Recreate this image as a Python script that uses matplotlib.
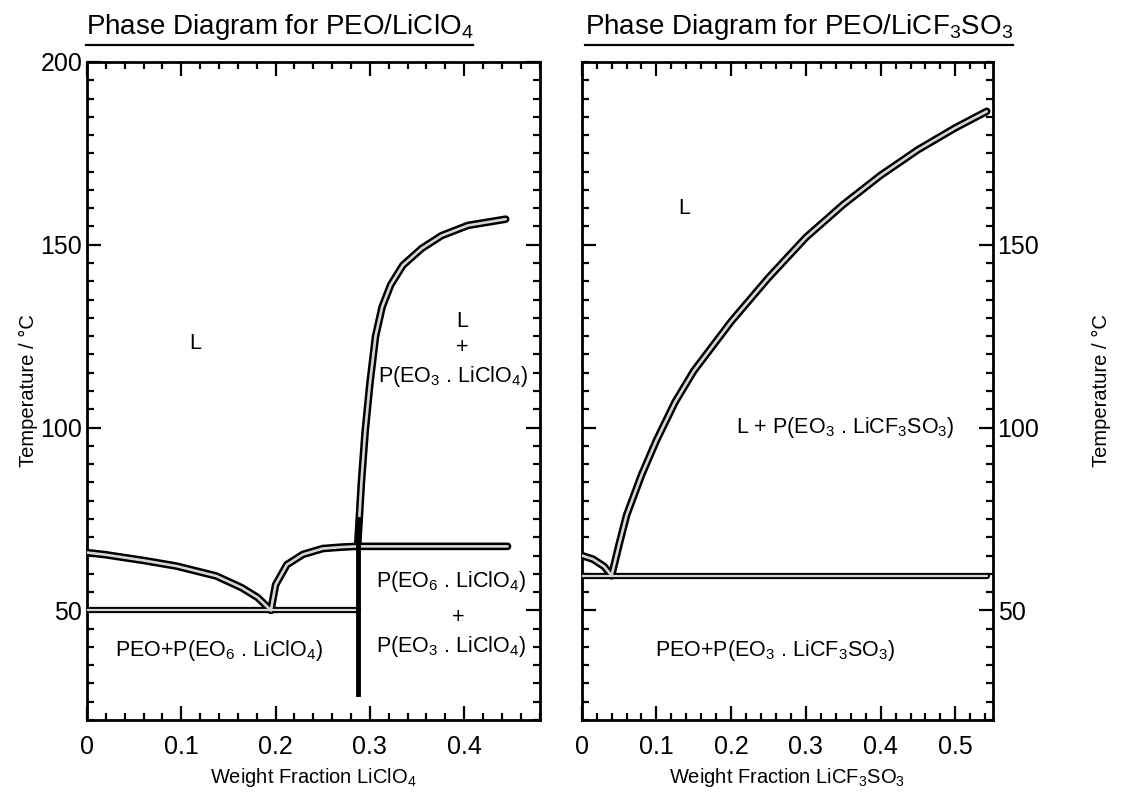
import numpy as np
import matplotlib.pyplot as plt
from matplotlib.lines import Line2D
from matplotlib.ticker import MultipleLocator

plt.rcParams['font.family'] = ['Liberation Sans', 'DejaVu Sans']
plt.rcParams['mathtext.default'] = 'regular'

# ---- PEO / LiClO4 ----
peo_liq_x = [0.0, 0.02, 0.061, 0.095, 0.137, 0.164, 0.181, 0.195]
peo_liq_t = [65.8, 65.2, 63.6, 62.1, 59.4, 56.2, 53.5, 50.0]

eo6_liq_x = [0.195, 0.200, 0.212, 0.229, 0.250, 0.270, 0.287, 0.446]
eo6_liq_t = [50.0, 57.0, 62.5, 65.3, 66.9, 67.3, 67.5, 67.5]

eo3_liq_x = [0.287, 0.288, 0.291, 0.295, 0.300, 0.306, 0.313, 0.322,
             0.335, 0.355, 0.376, 0.404, 0.444]
eo3_liq_t = [67.5, 72.0, 85.0, 99.0, 112.0, 125.0, 133.0, 139.0,
             144.4, 149.0, 152.5, 155.3, 157.0]

eutectic1_x = [0.0, 0.287]
eutectic1_t = [50.0, 50.0]
compound1_x = [0.287, 0.287]
compound1_t = [27.0, 75.0]

# ---- PEO / LiCF3SO3 ----
peo2_liq_x = [0.0, 0.015, 0.03, 0.04]
peo2_liq_t = [65.0, 64.0, 62.0, 59.5]

eo3b_liq_x = [0.040, 0.050, 0.060, 0.080, 0.100, 0.125, 0.150, 0.200, 0.250,
              0.300, 0.350, 0.400, 0.450, 0.500, 0.542]
eo3b_liq_t = [59.5, 68.0, 76.0, 87.0, 96.5, 107.0, 115.5, 129.0, 141.0,
              152.0, 161.0, 169.0, 176.0, 182.0, 186.5]

eutectic2_x = [0.0, 0.542]
eutectic2_t = [59.5, 59.5]


def hollow(ax, x, y, lw=5.5):
    ax.plot(x, y, color='black', lw=lw, solid_capstyle='round',
            solid_joinstyle='round', zorder=3)
    ax.plot(x, y, color='#d6d6d6', lw=lw * 0.35, solid_capstyle='round',
            solid_joinstyle='round', zorder=4)


def style_axes(ax, xmax):
    ax.set_xlim(0, xmax)
    ax.set_ylim(20, 200)
    ax.xaxis.set_major_locator(MultipleLocator(0.1))
    ax.xaxis.set_minor_locator(MultipleLocator(0.02))
    ax.yaxis.set_major_locator(MultipleLocator(50))
    ax.yaxis.set_minor_locator(MultipleLocator(5))
    ax.tick_params(which='both', direction='in', top=True, bottom=True,
                   left=True, right=True, width=1.6, labelsize=18)
    ax.tick_params(axis='x', which='major', pad=11)
    ax.tick_params(which='major', length=10)
    ax.tick_params(which='minor', length=5)
    for s in ax.spines.values():
        s.set_linewidth(2)
    ax.xaxis.set_major_formatter(plt.FuncFormatter(
        lambda v, p: '0' if abs(v) < 1e-9 else f'{v:.1f}'))


fig = plt.figure(figsize=(11.23, 8), dpi=100)
ax1 = fig.add_axes([0.0775, 0.1, 0.403, 0.8225])
ax2 = fig.add_axes([0.518, 0.1, 0.366, 0.8225])

style_axes(ax1, 0.48)
style_axes(ax2, 0.55)
ax1.set_yticks([50, 100, 150, 200])
ax2.set_yticks([50, 100, 150])
ax2.tick_params(axis='y', which='both', labelleft=False, labelright=True)

# left panel curves
hollow(ax1, peo_liq_x, peo_liq_t)
hollow(ax1, eo6_liq_x, eo6_liq_t)
hollow(ax1, eo3_liq_x, eo3_liq_t)
hollow(ax1, eutectic1_x, eutectic1_t, lw=4.5)
ax1.plot(compound1_x, compound1_t, color='black', lw=3.5, zorder=5)

# right panel curves
hollow(ax2, peo2_liq_x, peo2_liq_t)
hollow(ax2, eo3b_liq_x, eo3b_liq_t)
hollow(ax2, eutectic2_x, eutectic2_t, lw=4.5)

fs = 15.5
ax1.text(0.115, 123, 'L', fontsize=fs, ha='center', va='center')
ax1.text(0.398, 129, 'L', fontsize=fs, ha='center', va='center')
ax1.text(0.398, 122, '+', fontsize=fs, ha='center', va='center')
ax1.text(0.388, 114, r'P(EO$_3$ . LiClO$_4$)', fontsize=fs, ha='center', va='center')
ax1.text(0.386, 58, r'P(EO$_6$ . LiClO$_4$)', fontsize=fs, ha='center', va='center')
ax1.text(0.394, 48, '+', fontsize=fs, ha='center', va='center')
ax1.text(0.386, 40, r'P(EO$_3$ . LiClO$_4$)', fontsize=fs, ha='center', va='center')
ax1.text(0.140, 39, r'PEO+P(EO$_6$ . LiClO$_4$)', fontsize=fs, ha='center', va='center')

ax2.text(0.137, 160, 'L', fontsize=fs, ha='center', va='center')
ax2.text(0.353, 100, r'L + P(EO$_3$ . LiCF$_3$SO$_3$)', fontsize=fs, ha='center', va='center')
ax2.text(0.259, 39, r'PEO+P(EO$_3$ . LiCF$_3$SO$_3$)', fontsize=fs, ha='center', va='center')

ax1.set_xlabel(r'Weight Fraction LiClO$_4$', fontsize=14.5, labelpad=5)
ax2.set_xlabel(r'Weight Fraction LiCF$_3$SO$_3$', fontsize=14.5, labelpad=5)
ax1.set_ylabel('Temperature / °C', fontsize=14.5, labelpad=2)
ax2.set_ylabel('Temperature / °C', fontsize=14.5, labelpad=38)
ax2.yaxis.set_label_position('right')

t1 = fig.text(0.0765, 0.966, r'Phase Diagram for PEO/LiClO$_4$', fontsize=20,
              ha='left', va='center')
t2 = fig.text(0.521, 0.966, r'Phase Diagram for PEO/LiCF$_3$SO$_3$', fontsize=20,
              ha='left', va='center')

fig.canvas.draw()
inv = fig.transFigure.inverted()
for t in (t1, t2):
    bb = t.get_window_extent().transformed(inv)
    fig.add_artist(Line2D([bb.x0, bb.x1], [0.944, 0.944], color='black', lw=1.6))

fig.savefig('out.png', dpi=100)
